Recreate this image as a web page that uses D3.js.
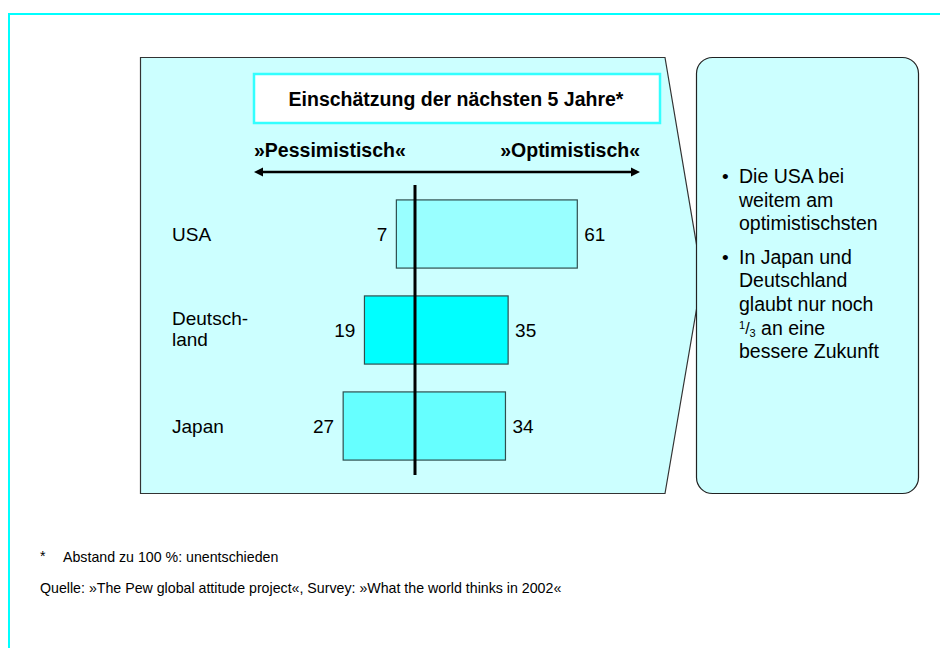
<!DOCTYPE html>
<html lang="de">
  <head>
    <meta charset="UTF-8" />
    <title>Einschätzung der nächsten 5 Jahre</title>
    <style>
      body { margin: 0; background: #fff; }
      svg { display: block; font-family: "Liberation Sans", Arial, sans-serif; }
    </style>
  </head>
  <body>
    <script src="https://cdnjs.cloudflare.com/ajax/libs/d3/7.8.5/d3.min.js"></script>
    <script>

// data
var countries = ["USA", "Deutschland", "Japan"];
var countryLines = [["USA"], ["Deutsch-", "land"], ["Japan"]];
var pessimistic = [7, 19, 27];
var optimistic = [61, 35, 34];
var barColors = ["#99ffff", "#00ffff", "#66ffff"];
var title = "Einschätzung der nächsten 5 Jahre*";
var leftLabel = "»Pessimistisch«";
var rightLabel = "»Optimistisch«";
var footnote = "Abstand zu 100 %: unentschieden";
var source = "Quelle: »The Pew global attitude project«, Survey: »What the world thinks in 2002«";

var width = 940, height = 648;

var svg = d3.select("body").append("svg")
  .attr("width", width)
  .attr("height", height);

// outer cyan frame (open to the right and bottom)
svg.append("path")
  .attr("d", "M9,648 L9,14 L940,14")
  .attr("fill", "none")
  .attr("stroke", "#00ffff")
  .attr("stroke-width", 2);

// left panel, pointing right
svg.append("path")
  .attr("d", "M140.5,57.5 L665,57.5 L702,277 L665,493.5 L140.5,493.5 Z")
  .attr("fill", "#ccffff")
  .attr("stroke", "#333")
  .attr("stroke-width", 1.2);

// right panel
svg.append("rect")
  .attr("x", 696.5).attr("y", 57.5)
  .attr("width", 222).attr("height", 436)
  .attr("rx", 16).attr("ry", 16)
  .attr("fill", "#ccffff")
  .attr("stroke", "#222")
  .attr("stroke-width", 1.2);

// title box
svg.append("rect")
  .attr("x", 254).attr("y", 74)
  .attr("width", 406).attr("height", 49)
  .attr("fill", "#fff")
  .attr("stroke", "#33ffff")
  .attr("stroke-width", 2.5);

svg.append("text")
  .attr("x", 456).attr("y", 106)
  .attr("text-anchor", "middle")
  .attr("font-size", 19.5)
  .attr("font-weight", "bold")
  .text(title);

// scales
var x = d3.scaleLinear().domain([-61, 61]).range([252.7, 577.3]);
var y = d3.scaleBand().domain(countries).range([186, 474])
  .paddingInner(0.29).paddingOuter(0.145);

// direction labels + arrow
svg.append("text")
  .attr("x", 254).attr("y", 157)
  .attr("font-size", 19.5).attr("font-weight", "bold")
  .text(leftLabel);
svg.append("text")
  .attr("x", 640).attr("y", 157)
  .attr("text-anchor", "end")
  .attr("font-size", 19.5).attr("font-weight", "bold")
  .text(rightLabel);

svg.append("line")
  .attr("x1", 260).attr("x2", 634)
  .attr("y1", 172).attr("y2", 172)
  .attr("stroke", "#000").attr("stroke-width", 2.5);
svg.append("path")
  .attr("d", "M254,172 L263,167.5 L263,176.5 Z M640,172 L631,167.5 L631,176.5 Z")
  .attr("fill", "#000");

// bars
var rows = svg.append("g").selectAll("g")
  .data(countries)
  .join("g");

rows.append("rect")
  .attr("x", function(d, i) { return x(-pessimistic[i]); })
  .attr("y", function(d) { return y(d); })
  .attr("width", function(d, i) { return x(optimistic[i]) - x(-pessimistic[i]); })
  .attr("height", y.bandwidth())
  .attr("fill", function(d, i) { return barColors[i]; })
  .attr("stroke", "#2f4f4f")
  .attr("stroke-width", 1.2);

rows.append("text")
  .attr("x", function(d, i) { return x(-pessimistic[i]) - 9; })
  .attr("y", function(d) { return y(d) + y.bandwidth() / 2; })
  .attr("dy", "0.35em")
  .attr("text-anchor", "end")
  .attr("font-size", 19)
  .text(function(d, i) { return pessimistic[i]; });

rows.append("text")
  .attr("x", function(d, i) { return x(optimistic[i]) + 7; })
  .attr("y", function(d) { return y(d) + y.bandwidth() / 2; })
  .attr("dy", "0.35em")
  .attr("font-size", 19)
  .text(function(d, i) { return optimistic[i]; });

// country labels
rows.append("text")
  .attr("x", 172)
  .attr("y", function(d, i) {
    var n = countryLines[i].length;
    return y(d) + y.bandwidth() / 2 - (n - 1) * 11.5;
  })
  .attr("font-size", 19)
  .each(function(d, i) {
    d3.select(this).selectAll("tspan")
      .data(countryLines[i])
      .join("tspan")
      .attr("x", 172)
      .attr("dy", function(t, j) { return j === 0 ? "0.35em" : 21; })
      .text(function(t) { return t; });
  });

// zero line
svg.append("line")
  .attr("x1", x(0)).attr("x2", x(0))
  .attr("y1", 185).attr("y2", 475)
  .attr("stroke", "#000").attr("stroke-width", 3);

// bullet text in right panel
var bullets = [
  ["Die USA bei", "weitem am", "optimistischsten"],
  ["In Japan und", "Deutschland", "glaubt nur noch", null, "bessere Zukunft"]
];
var lineH = 23.7;
var lineY = 183;
bullets.forEach(function(lines, b) {
  svg.append("text")
    .attr("x", 722).attr("y", lineY)
    .attr("font-size", 19)
    .text("•");
  lines.forEach(function(t) {
    var tx = svg.append("text")
      .attr("x", 739).attr("y", lineY)
      .attr("font-size", 19.5);
    if (t === null) {
      tx.append("tspan").attr("font-size", 11).attr("dy", -6).text("1");
      tx.append("tspan").attr("font-size", 16).attr("dy", 5).text("/");
      tx.append("tspan").attr("font-size", 11).attr("dy", 3).text("3");
      tx.append("tspan").attr("dy", -2).text(" an eine");
    } else {
      tx.text(t);
    }
    lineY += lineH;
  });
  lineY += 9.5;
});

// footnotes
svg.append("text")
  .attr("x", 40).attr("y", 561)
  .attr("font-size", 14.2)
  .text("*");
svg.append("text")
  .attr("x", 63).attr("y", 562)
  .attr("font-size", 14.2)
  .text(footnote);
svg.append("text")
  .attr("x", 40).attr("y", 593)
  .attr("font-size", 14.2)
  .text(source);

    </script>
  </body>
</html>
